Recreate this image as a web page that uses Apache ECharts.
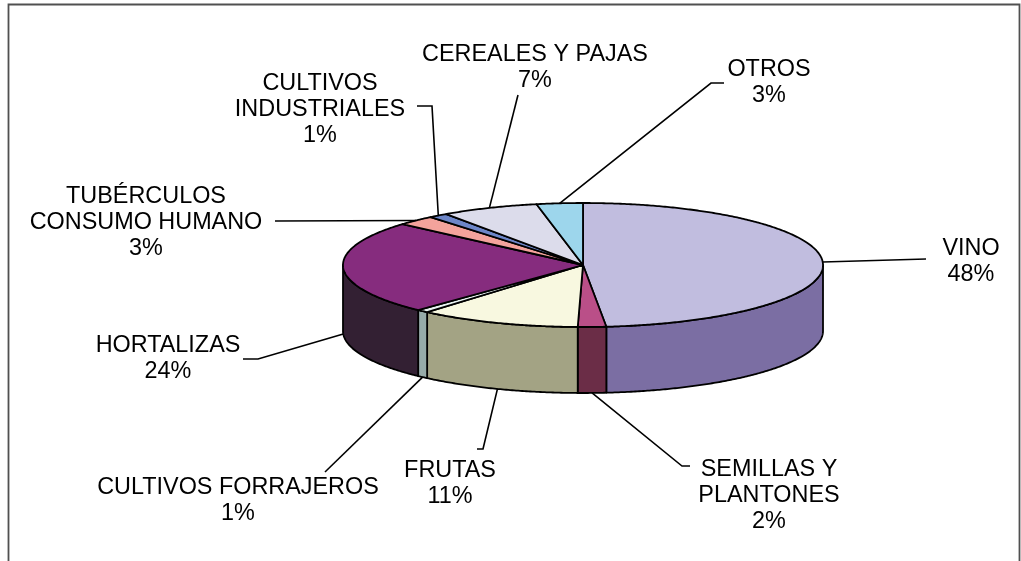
<!DOCTYPE html>
<html>
<head>
<meta charset="utf-8">
<title>Distribución por sectores</title>
<script src="https://cdn.jsdelivr.net/npm/echarts@6/dist/echarts.min.js"></script>
<style>
  html, body { margin: 0; padding: 0; background: #fff; }
  #chart { width: 1021px; height: 561px; }
</style>
</head>
<body>
<div id="chart"></div>
<script>
// Categories (label text, with manual line breaks) and their shares in percent
const categories = [
  'VINO',
  'SEMILLAS Y\nPLANTONES',
  'FRUTAS',
  'CULTIVOS FORRAJEROS',
  'HORTALIZAS',
  'TUBÉRCULOS\nCONSUMO HUMANO',
  'CULTIVOS\nINDUSTRIALES',
  'CEREALES Y PAJAS',
  'OTROS'
];
const shares = [48.45, 1.9, 10.9, 0.8, 24.4, 2.6, 1.3, 6.55, 3.1];

// Face colours: top of each slice and its darker outer wall
const topColors  = ['#C1BDDF', '#BA4F88', '#F8F8E0', '#EAF4F2', '#862C7E', '#F4A39C', '#6D86C8', '#DCDCEB', '#9DD6EC'];
const sideColors = ['#7B6EA3', '#6B2D47', '#A3A384', '#96ABA9', '#332033', '#9A5F5A', '#3E4F7E', '#8C8CA0', '#5C8C9E'];

// Tilted-disc geometry (pixels)
const G = { cx: 583, cy: 265, rx: 240, ry: 62, depth: 66 };

// Label boxes (centre) and leader-line bends, from slice edge outwards
const labelLayout = [
  { x: 971, y: 262, leader: [[926, 259]] },
  { x: 769, y: 496, leader: [[682, 466], [690, 466]] },
  { x: 450, y: 484, leader: [[483, 449], [477, 449]] },
  { x: 238, y: 501, leader: [[325, 472]] },
  { x: 168, y: 359, leader: [[258, 359], [243, 359]] },
  { x: 146, y: 223, leader: [[275, 221]] },
  { x: 320, y: 110, leader: [[432, 106], [417, 106]] },
  { x: 535, y: 68,  leader: [[518, 95]] },
  { x: 769, y: 83,  leader: [[711, 83], [724, 83]] }
];

const total = shares.reduce((a, b) => a + b, 0);
const startAngles = [];
const endAngles = [];
let acc = 0;
shares.forEach(v => {
  startAngles.push(acc / total * 360);
  acc += v;
  endAngles.push(acc / total * 360);
});

// Point on the rim, angle measured clockwise from 12 o'clock
function rimPoint(deg, dy) {
  const r = deg * Math.PI / 180;
  return [G.cx + G.rx * Math.sin(r), G.cy - G.ry * Math.cos(r) + (dy || 0)];
}
function arc(from, to, dy) {
  const pts = [];
  const n = Math.max(2, Math.ceil(Math.abs(to - from) / 0.5));
  for (let k = 0; k <= n; k++) {
    pts.push(rimPoint(from + (to - from) * k / n, dy));
  }
  return pts;
}

const edge = { stroke: '#000', lineWidth: 1.8, lineJoin: 'round' };

function renderSlice(params, api) {
  const i = params.dataIndex;
  const a1 = startAngles[i], a2 = endAngles[i];
  const children = [];

  // outer wall: only the front half of the disc is visible
  const s = Math.max(a1, 90), e = Math.min(a2, 270);
  if (e > s) {
    children.push({
      type: 'polygon',
      z2: 1,
      shape: { points: arc(s, e, 0).concat(arc(e, s, G.depth)) },
      style: Object.assign({ fill: sideColors[i] }, edge)
    });
  }

  // top face
  children.push({
    type: 'polygon',
    z2: 2,
    shape: { points: [[G.cx, G.cy]].concat(arc(a1, a2, 0)) },
    style: Object.assign({ fill: topColors[i] }, edge)
  });

  // leader line from the slice's mid angle
  const mid = (a1 + a2) / 2;
  const front = mid > 90 && mid < 270;
  const p0 = rimPoint(mid, front ? G.depth : 0);
  const L = labelLayout[i];
  children.push({
    type: 'polyline',
    z2: 3,
    shape: { points: [p0].concat(L.leader) },
    style: { stroke: '#000', lineWidth: 1.6, fill: null }
  });

  // category + percentage label
  const pct = Math.round(api.value(0) / total * 100);
  children.push({
    type: 'text',
    z2: 4,
    style: {
      text: categories[i] + '\n' + pct + '%',
      x: L.x,
      y: L.y,
      align: 'center',
      verticalAlign: 'middle',
      fontSize: 23.4,
      fontFamily: '"Liberation Sans", Arial, sans-serif',
      lineHeight: 26,
      fill: '#000'
    }
  });

  return { type: 'group', children: children };
}

const chart = echarts.init(document.getElementById('chart'), null, { renderer: 'canvas' });
chart.setOption({
  backgroundColor: '#fff',
  animation: false,
  graphic: [{
    type: 'rect',
    silent: true,
    shape: { x: 8.5, y: 4.5, width: 1011, height: 620 },
    style: { fill: null, stroke: '#505050', lineWidth: 1.8 }
  }],
  series: [{
    type: 'custom',
    coordinateSystem: 'none',
    silent: true,
    renderItem: renderSlice,
    data: shares.map(v => [v])
  }]
});
</script>
</body>
</html>
